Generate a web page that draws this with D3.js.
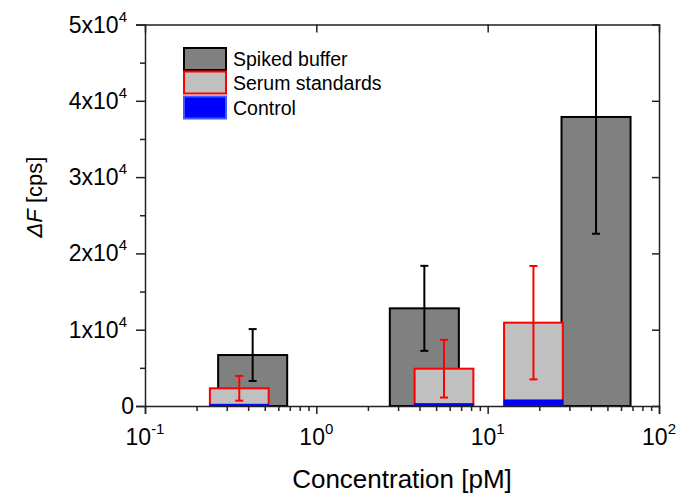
<!DOCTYPE html>
<html>
<head>
<meta charset="utf-8">
<script src="https://cdn.jsdelivr.net/npm/d3@7"></script>
<style>
  body { margin: 0; background: #fff; }
  text { font-family: "Liberation Sans", Arial, sans-serif; fill: #000; }
</style>
</head>
<body>
<div id="chart"></div>
<script>
// Data
var spikedConc = [0.425, 4.27, 42.9];
var spikedMean = [6680, 12800, 37880];
var spikedErr = [3400, 5570, 15300];

var serumConc = [0.355, 5.56, 18.5];
var serumMean = [2320, 4890, 10920];
var serumErr = [1620, 3780, 7430];

var controlMean = [220, 300, 790];

var legendLabels = ["Spiked buffer", "Serum standards", "Control"];

var xMajor = [0.1, 1, 10, 100];
var xMinor = [0.2, 0.3, 0.4, 0.5, 0.6, 0.7, 0.8, 0.9,
              2, 3, 4, 5, 6, 7, 8, 9,
              20, 30, 40, 50, 60, 70, 80, 90];
var xTickLabels = [["10", "-1"], ["10", "0"], ["10", "1"], ["10", "2"]];

var yMajor = [0, 10000, 20000, 30000, 40000, 50000];
var yMinor = [5000, 15000, 25000, 35000, 45000];
var yTickLabels = [["0", ""], ["1x10", "4"], ["2x10", "4"], ["3x10", "4"], ["4x10", "4"], ["5x10", "4"]];

// SVG size and margins
var svgWidth = 693;
var svgHeight = 494;
var margin = { top: 24.5, right: 34, bottom: 88, left: 145 };
var width = svgWidth - margin.left - margin.right;
var height = svgHeight - margin.top - margin.bottom;

// bar widths in decades
var spikedW = 0.403;
var serumW = 0.343;

var svg = d3.select("#chart")
  .append("svg")
  .attr("width", svgWidth)
  .attr("height", svgHeight);

var chartGroup = svg.append("g")
  .attr("transform", `translate(${margin.left}, ${margin.top})`);

var x = d3.scaleLog().domain([0.1, 100]).range([0, width]);
var y = d3.scaleLinear().domain([0, 50000]).range([height, 0]);

svg.append("defs").append("clipPath").attr("id", "clip")
  .append("rect").attr("width", width).attr("height", height);

var plot = chartGroup.append("g").attr("clip-path", "url(#clip)");

function barLeft(c, w) { return x(c / Math.pow(10, w / 2)); }
function barRight(c, w) { return x(c * Math.pow(10, w / 2)); }

// Spiked buffer bars
plot.selectAll(".spiked")
  .data(spikedMean)
  .enter()
  .append("rect")
  .attr("class", "spiked")
  .attr("x", (d, i) => barLeft(spikedConc[i], spikedW))
  .attr("width", (d, i) => barRight(spikedConc[i], spikedW) - barLeft(spikedConc[i], spikedW))
  .attr("y", d => y(d))
  .attr("height", d => y(0) - y(d))
  .attr("fill", "#808080")
  .attr("stroke", "#000")
  .attr("stroke-width", 2);

// Serum standards bars
plot.selectAll(".serum")
  .data(serumMean)
  .enter()
  .append("rect")
  .attr("class", "serum")
  .attr("x", (d, i) => barLeft(serumConc[i], serumW))
  .attr("width", (d, i) => barRight(serumConc[i], serumW) - barLeft(serumConc[i], serumW))
  .attr("y", d => y(d))
  .attr("height", d => y(0) - y(d))
  .attr("fill", "#c0c0c0")
  .attr("stroke", "#ff0000")
  .attr("stroke-width", 2);

// Control bars
plot.selectAll(".control")
  .data(controlMean)
  .enter()
  .append("rect")
  .attr("class", "control")
  .attr("x", (d, i) => barLeft(serumConc[i], serumW))
  .attr("width", (d, i) => barRight(serumConc[i], serumW) - barLeft(serumConc[i], serumW))
  .attr("y", d => y(d))
  .attr("height", d => y(0) - y(d))
  .attr("fill", "#0000ff")
  .attr("stroke", "#0000ff")
  .attr("stroke-width", 1);

// Error bars
function errorBars(conc, mean, err, color) {
  var g = plot.append("g").attr("stroke", color).attr("stroke-width", 2);
  mean.forEach(function(m, i) {
    var cx = x(conc[i]);
    g.append("line").attr("x1", cx).attr("x2", cx)
      .attr("y1", y(m + err[i])).attr("y2", y(m - err[i]));
    g.append("line").attr("x1", cx - 4).attr("x2", cx + 4)
      .attr("y1", y(m + err[i])).attr("y2", y(m + err[i]));
    g.append("line").attr("x1", cx - 4).attr("x2", cx + 4)
      .attr("y1", y(m - err[i])).attr("y2", y(m - err[i]));
  });
}
errorBars(spikedConc, spikedMean, spikedErr, "#000");
errorBars(serumConc, serumMean, serumErr, "#ff0000");

// Axes
var axisColor = "#222";

var bottomAxis = chartGroup.append("g")
  .attr("transform", `translate(0, ${height})`)
  .call(d3.axisBottom(x).tickValues(xMajor).tickSize(8).tickFormat(""));
chartGroup.append("g")
  .attr("transform", `translate(0, ${height})`)
  .call(d3.axisBottom(x).tickValues(xMinor).tickSize(5).tickFormat(""))
  .select(".domain").remove();

chartGroup.append("g")
  .call(d3.axisBottom(x).tickValues([1, 10]).tickSize(8).tickFormat(""));

chartGroup.append("g")
  .call(d3.axisLeft(y).tickValues(yMajor).tickSize(9).tickFormat(""));
chartGroup.append("g")
  .call(d3.axisLeft(y).tickValues(yMinor).tickSize(5).tickFormat(""))
  .select(".domain").remove();

chartGroup.append("g")
  .attr("transform", `translate(${width}, 0)`)
  .call(d3.axisLeft(y).tickValues([10000, 20000, 30000, 40000]).tickSize(7).tickFormat(""));

chartGroup.selectAll(".domain").attr("stroke", axisColor).attr("stroke-width", 1.5);
chartGroup.selectAll(".tick line").attr("stroke", axisColor).attr("stroke-width", 1.5);

// x tick labels with superscripts
xMajor.forEach(function(v, i) {
  var t = chartGroup.append("text")
    .attr("x", x(v))
    .attr("y", height + 39)
    .attr("text-anchor", "middle")
    .style("font-size", "23px");
  t.append("tspan").text(xTickLabels[i][0]);
  t.append("tspan").attr("dy", -11.5).style("font-size", "15px").text(xTickLabels[i][1]);
});

// y tick labels
yMajor.forEach(function(v, i) {
  var t = chartGroup.append("text")
    .attr("x", yTickLabels[i][1] ? -18 : -11)
    .attr("y", y(v) + 8)
    .attr("text-anchor", "end")
    .style("font-size", "23px");
  t.append("tspan").text(yTickLabels[i][0]);
  if (yTickLabels[i][1]) {
    t.append("tspan").attr("dy", -11).style("font-size", "15px").text(yTickLabels[i][1]);
  }
});

// Axis titles
chartGroup.append("text")
  .attr("x", width / 2)
  .attr("y", height + 82)
  .attr("text-anchor", "middle")
  .style("font-size", "26px")
  .text("Concentration [pM]");

var yTitle = chartGroup.append("text")
  .attr("transform", `translate(${42 - margin.left}, ${197 - margin.top}) rotate(-90)`)
  .attr("text-anchor", "middle")
  .style("font-size", "22px");
yTitle.append("tspan").style("font-style", "italic").text("\u0394F");
yTitle.append("tspan").text(" [cps]");

// Legend
var legendFill = ["#808080", "#c0c0c0", "#0000ff"];
var legendStroke = ["#000", "#ff0000", "#3a5cff"];
var legendY = [48, 71.5, 96.5];
var legend = svg.append("g");
legendLabels.forEach(function(lab, i) {
  legend.append("rect")
    .attr("x", 184)
    .attr("y", legendY[i])
    .attr("width", 42)
    .attr("height", 22)
    .attr("fill", legendFill[i])
    .attr("stroke", legendStroke[i])
    .attr("stroke-width", 2);
  legend.append("text")
    .attr("x", 233)
    .attr("y", legendY[i] + 18)
    .style("font-size", "19.5px")
    .text(lab);
});
</script>
</body>
</html>
